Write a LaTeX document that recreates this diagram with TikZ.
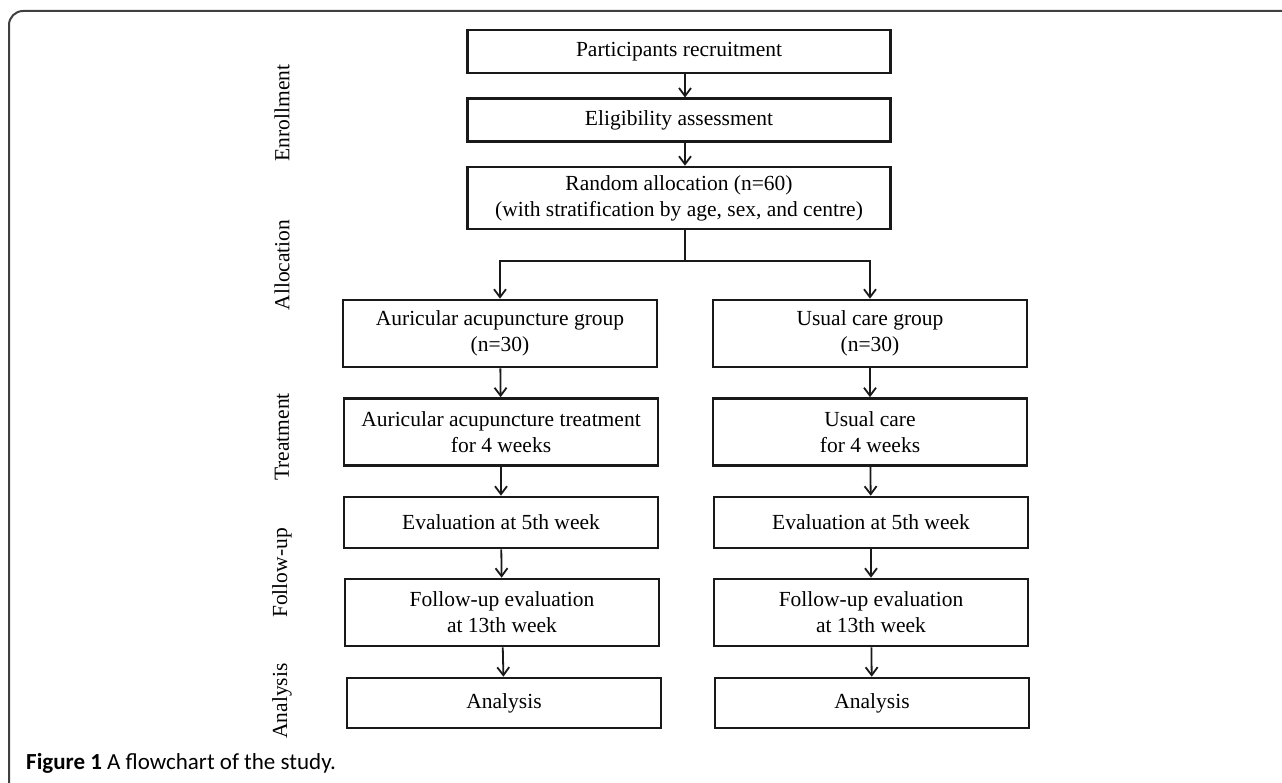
\documentclass[tikz,border=0pt]{standalone}
\usepackage{fontspec}
\setmainfont{Liberation Serif}
\newfontfamily\capfont{Carlito}
\usetikzlibrary{arrows.meta}
\begin{document}
\begin{tikzpicture}[x=1pt,y=-1pt,
  box/.style={draw=black!90, line width=2.6pt, inner sep=0pt, align=center,
              font=\fontsize{21.5}{26}\selectfont},
  colbox/.style={box, minimum width=314pt},
  topbox/.style={box, minimum width=423pt},
  lab/.style={rotate=90, inner sep=0pt, font=\fontsize{21.5}{26}\selectfont},
  ln/.style={line width=1.8pt, draw=black!90},
  arr/.style={ln, -{Straight Barb[length=8pt,width=12pt,line width=1.8pt]}}]
\useasboundingbox (0,0) rectangle (1282,783);
% outer frame
\draw[line width=2pt, draw=black!75, rounded corners=14pt] (9,790) -- (9,11) -- (1290,11);

% side labels
\node[lab] (lenr) at (282,113) {Enrollment};
\node[lab] (lall) at (282,265) {Allocation};
\node[lab] (ltre) at (282,437) {Treatment};
\node[lab] (lfol) at (282,573) {Follow-up};
\node[lab] (lana) at (282,701) {Analysis};

% top boxes
\node[topbox, minimum height=43pt] (rec) at (679,51.5) {Participants recruitment};
\node[topbox, minimum height=43pt] (elig) at (679,120.3) {Eligibility assessment};
\node[topbox, minimum height=62pt] (rand) at (679,198) {Random allocation (n=60)\\(with stratification by age, sex, and centre)};

% left column
\node[colbox, minimum height=67pt] (g1) at (500,333.5) {Auricular acupuncture group\\(n=30)};
\node[colbox, minimum height=67pt] (t1) at (501,432) {Auricular acupuncture treatment\\for 4 weeks};
\node[colbox, minimum height=51pt] (e1) at (501,522.5) {Evaluation at 5th week};
\node[colbox, minimum height=67pt] (f1) at (502,612.5) {Follow-up evaluation\\at 13th week};
\node[colbox, minimum height=50pt] (a1) at (504,703) {Analysis};

% right column
\node[colbox, minimum height=67pt] (g2) at (870,333.5) {Usual care group\\(n=30)};
\node[colbox, minimum height=67pt] (t2) at (870,432) {Usual care\\for 4 weeks};
\node[colbox, minimum height=51pt] (e2) at (871,522.5) {Evaluation at 5th week};
\node[colbox, minimum height=67pt] (f2) at (871,612.5) {Follow-up evaluation\\at 13th week};
\node[colbox, minimum height=50pt] (a2) at (872,703) {Analysis};

% connectors
\coordinate (ax) at (685,0);
\coordinate (split) at (685,261);
\draw[arr] (rec.south -| ax) -- (elig.north -| ax);
\draw[arr] (elig.south -| ax) -- (rand.north -| ax);
\draw[ln] (rand.south -| ax) -- (split);
\draw[arr] (split) -| (g1.north);
\draw[arr] (split) -| (g2.north);
\draw[arr] (g1) -- (t1);
\draw[arr] (t1) -- (e1);
\draw[arr] (e1) -- (f1);
\draw[arr] (f1) -- (a1);
\draw[arr] (g2) -- (t2);
\draw[arr] (t2) -- (e2);
\draw[arr] (e2) -- (f2);
\draw[arr] (f2) -- (a2);

% caption
\node[anchor=base west, inner sep=0pt, font=\capfont\fontsize{23}{27}\selectfont] (cap) at (26,769)
  {\textbf{Figure 1} A flowchart of the study.};
\end{tikzpicture}
\end{document}
